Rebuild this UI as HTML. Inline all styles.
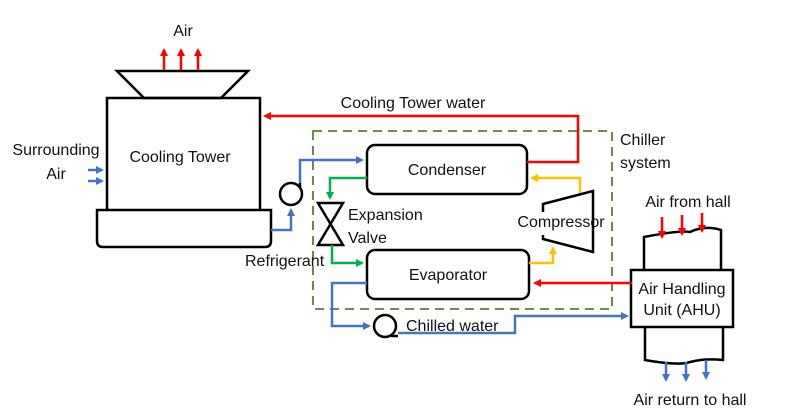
<!DOCTYPE html><html><head><style>body{margin:0;background:#fff}svg{display:block}text{font-family:"Liberation Sans",sans-serif;font-size:16px;fill:#111}</style></head><body>
<svg width="796" height="419" viewBox="0 0 796 419" xmlns="http://www.w3.org/2000/svg">
<defs>
<marker id="r" markerWidth="8" markerHeight="8" refX="6" refY="4" orient="auto" markerUnits="userSpaceOnUse"><path d="M0,0L8,4L0,8z" fill="#f00"/></marker>
<marker id="b" markerWidth="8" markerHeight="8" refX="6" refY="4" orient="auto" markerUnits="userSpaceOnUse"><path d="M0,0L8,4L0,8z" fill="#4472c4"/></marker>
<marker id="g" markerWidth="8" markerHeight="8" refX="6" refY="4" orient="auto" markerUnits="userSpaceOnUse"><path d="M0,0L8,4L0,8z" fill="#00b050"/></marker>
<marker id="y" markerWidth="8" markerHeight="8" refX="6" refY="4" orient="auto" markerUnits="userSpaceOnUse"><path d="M0,0L8,4L0,8z" fill="#ffc000"/></marker>
</defs>
<g fill="none" stroke="#000" stroke-width="2.5">
<path d="M117,71H248L221,98H144Z" fill="#fff"/>
<rect x="107" y="98" width="153" height="114"/>
<path d="M97,210H271V241Q271,247 265,247H103Q97,247 97,241Z" fill="#fff"/>
<rect x="367" y="145" width="160" height="49" rx="8"/>
<rect x="367" y="250" width="162" height="49" rx="8"/>
<path d="M318,203H343L318,245H343Z"/>
<path d="M543,212V204L593,191V252L543,239V235"/>
<circle cx="291" cy="194" r="11"/><path d="M300,188V183"/>
<circle cx="385" cy="326" r="11"/><path d="M391,336H398"/>
<path d="M644,270V237Q680,230 690,232Q705,225 721,230V270"/>
<path d="M645,327V360Q680,366 690,362Q705,358 723,360V327"/>
<rect x="631" y="270" width="102" height="57" fill="#fff"/>
</g>
<rect x="313" y="131" width="299" height="178" fill="none" stroke="#548235" stroke-width="1.8" stroke-dasharray="9,6"/>
<g fill="none" stroke-width="2.5">
<g stroke="#f00" marker-end="url(#r)">
<path d="M164,70V50"/><path d="M181,70V50"/><path d="M198,70V50"/>
<path d="M527,162H578V116H265"/>
<path d="M632,283H535"/>
<path d="M662,217V237"/><path d="M682,215V234"/><path d="M702,213V231"/>
</g>
<g stroke="#4472c4" marker-end="url(#b)">
<path d="M271,230H291V210"/>
<path d="M300,183V160H362"/>
<path d="M367,283H332V326H369"/>
<path d="M398,333H515V316H627"/>
<path d="M88,170H102"/><path d="M88,181H102"/>
<path d="M666,362V380"/><path d="M686,362V380"/><path d="M706,360V378"/>
</g>
<path d="M367,178H330V198" stroke="#00b050" marker-end="url(#g)"/>
<path d="M332,245V263H362" stroke="#00b050" marker-end="url(#g)"/>
<path d="M580,193V178H532" stroke="#ffc000" marker-end="url(#y)"/>
<path d="M529,263H553V248" stroke="#ffc000" marker-end="url(#y)"/>
</g>
<text x="183" y="36" text-anchor="middle">Air</text>
<text x="413" y="108" text-anchor="middle">Cooling Tower water</text>
<text x="180" y="162" text-anchor="middle">Cooling Tower</text>
<text x="56" y="155" text-anchor="middle">Surrounding</text>
<text x="56" y="179" text-anchor="middle">Air</text>
<text x="447" y="175" text-anchor="middle">Condenser</text>
<text x="448" y="280" text-anchor="middle">Evaporator</text>
<text x="348" y="220">Expansion</text>
<text x="348" y="243">Valve</text>
<text x="245" y="266">Refrigerant</text>
<rect x="518" y="212" width="70" height="20" fill="#fff"/>
<text x="561" y="227" text-anchor="middle">Compressor</text>
<text x="620" y="145">Chiller</text>
<text x="620" y="168">system</text>
<text x="406" y="331">Chilled water</text>
<text x="688" y="207" text-anchor="middle">Air from hall</text>
<text x="682" y="294" text-anchor="middle">Air Handling</text>
<text x="682" y="315" text-anchor="middle">Unit (AHU)</text>
<text x="690" y="405" text-anchor="middle">Air return to hall</text>
</svg></body></html>
